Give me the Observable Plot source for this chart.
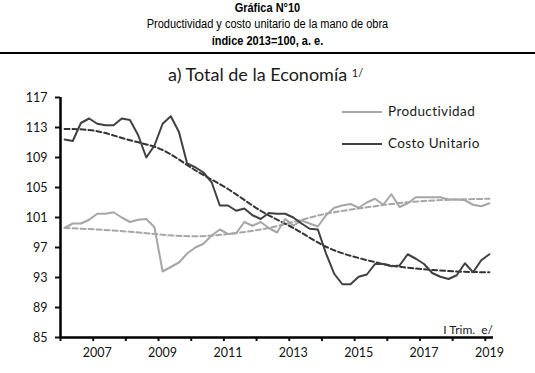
<!DOCTYPE html>
<html>
<head>
<meta charset="utf-8">
<script src="https://cdn.jsdelivr.net/npm/d3@7"></script>
<script src="https://cdn.jsdelivr.net/npm/@observablehq/plot@0.6"></script>
<style>
  html, body { margin: 0; padding: 0; background: #fff; }
  #wrap { position: relative; width: 535px; height: 373px; overflow: hidden; }
  .hdr { position: absolute; left: 0; width: 535px; text-align: center; font-family: "Liberation Sans", Arial, sans-serif; font-size: 12.5px; color: #000; line-height: 14px; transform: scaleX(0.88); transform-origin: 267px 0; }
  .b { font-weight: bold; }
  #rule { position: absolute; left: 0; top: 52px; width: 535px; height: 2px; background: #000; }
  #plot { position: absolute; left: 0; top: 55px; }
  .cal { font-family: Lato, "Open Sans", sans-serif; color: #1a1a1a; position: absolute; white-space: nowrap; }
  .leg { position: absolute; height: 2px; width: 40px; }
</style>
</head>
<body>
<div id="wrap">
  <div class="hdr b" style="top:1px">Gráfica N°10</div>
  <div class="hdr" style="top:17px">Productividad y costo unitario de la mano de obra</div>
  <div class="hdr b" style="top:34px">índice 2013=100, a. e.</div>
  <div id="rule"></div>
  <div id="plot"></div>
  <div class="cal" style="left:168px; top:63px; font-size:18px;">a) Total de la Economía <sup style="font-size:11px; position:relative; top:-4px; vertical-align:baseline;">1/</sup></div>
  <div class="leg" style="left:342px; top:111px; background:#a6a6a6;"></div>
  <div class="cal" style="left:388px; top:103px; font-size:13.5px; letter-spacing:0.4px;">Productividad</div>
  <div class="leg" style="left:342px; top:143px; background:#404040;"></div>
  <div class="cal" style="left:388px; top:135px; font-size:13.5px; letter-spacing:0.4px;">Costo Unitario</div>
  <div class="cal" style="right:42px; top:322px; font-size:12px;">I Trim.&nbsp; e/</div>
</div>
<script>
// Quarterly data, 2006 Q1 .. 2019 Q1 (index 0..52)
const startYear = 2006;
const costo = [111.4, 111.2, 113.6, 114.2, 113.5, 113.3, 113.3, 114.2, 114.0, 112.0,
  109.0, 110.6, 113.5, 114.5, 112.4, 108.2, 107.7, 107.0, 105.7, 102.6,
  102.6, 101.9, 102.2, 101.3, 100.8, 101.6, 101.5, 101.5, 101.0, 100.2,
  99.5, 99.4, 96.2, 93.5, 92.1, 92.1, 93.1, 93.4, 94.8, 94.8,
  94.5, 94.6, 96.1, 95.5, 94.8, 93.6, 93.1, 92.8, 93.3, 94.9,
  93.7, 95.3, 96.1];
const productividad = [99.6, 100.2, 100.2, 100.7, 101.5, 101.5, 101.7, 101.0, 100.4, 100.7,
  100.8, 99.7, 93.8, 94.4, 95.0, 96.2, 97.0, 97.5, 98.6, 99.4,
  98.8, 98.9, 100.4, 99.9, 100.4, 99.6, 99.0, 100.8, 99.9, 100.6,
  100.2, 99.8, 101.3, 102.3, 102.6, 102.8, 102.3, 103.0, 103.5, 102.7,
  104.1, 102.4, 102.9, 103.7, 103.7, 103.7, 103.7, 103.4, 103.4, 103.3,
  102.7, 102.5, 102.9];
// Trend (dashed) read every four quarters
const trendIdx = [0, 4, 8, 12, 16, 20, 24, 28, 32, 36, 40, 44, 48, 52];
const costoTrend = [112.8, 112.5, 111.3, 110.0, 107.3, 104.8, 101.9, 99.6, 97.1, 95.6, 94.6, 94.1, 93.8, 93.7];
const prodTrend = [99.6, 99.4, 99.1, 98.7, 98.5, 98.8, 99.4, 100.4, 101.5, 102.2, 102.8, 103.2, 103.4, 103.5];
// Axis ticks
const yTicks = [85, 89, 93, 97, 101, 105, 109, 113, 117];
const yearLabels = ["2007", "2009", "2011", "2013", "2015", "2017", "2019"];

const labelIdx = yearLabels.map(y => (+y - startYear) * 4);
const yearBoundaries = d3.range(0, 14).map(k => k * 4 - 0.5);

const costoData = costo.map((v, i) => ({i, v}));
const prodData = productividad.map((v, i) => ({i, v}));
const costoTrendData = trendIdx.map((i, k) => ({i, v: costoTrend[k]}));
const prodTrendData = trendIdx.map((i, k) => ({i, v: prodTrend[k]}));

const chart = Plot.plot({
  width: 535,
  height: 318,
  marginLeft: 60,
  marginRight: 42,
  marginTop: 42,
  marginBottom: 36,
  style: {fontFamily: "Lato, 'Open Sans', sans-serif", fontSize: "12.5px", color: "#111", background: "transparent"},
  x: {domain: [-0.5, 52.5], axis: null},
  y: {domain: [85, 117], axis: null},
  marks: [
    Plot.line(prodTrendData, {x: "i", y: "v", stroke: "#a6a6a6", strokeWidth: 2, strokeDasharray: "5,3", curve: "natural"}),
    Plot.line(costoTrendData, {x: "i", y: "v", stroke: "#333", strokeWidth: 2, strokeDasharray: "5,3", curve: "natural"}),
    Plot.line(prodData, {x: "i", y: "v", stroke: "#a6a6a6", strokeWidth: 2}),
    Plot.line(costoData, {x: "i", y: "v", stroke: "#404040", strokeWidth: 2}),
    Plot.axisY({ticks: yTicks, tickSize: 5, tickPadding: 8, strokeWidth: 2, label: null, tickFormat: d => String(d)}),
    Plot.axisX({ticks: yearBoundaries, tickSize: 4, strokeWidth: 2, label: null, text: null}),
    Plot.axisX({ticks: labelIdx, tickSize: 0, tickPadding: 11, label: null, tickFormat: i => yearLabels[labelIdx.indexOf(i)]}),
    Plot.ruleY([85], {stroke: "#000", strokeWidth: 2.5}),
    Plot.ruleX([-0.5], {stroke: "#000", strokeWidth: 2.5})
  ]
});
document.getElementById("plot").appendChild(chart);
</script>
</body>
</html>
